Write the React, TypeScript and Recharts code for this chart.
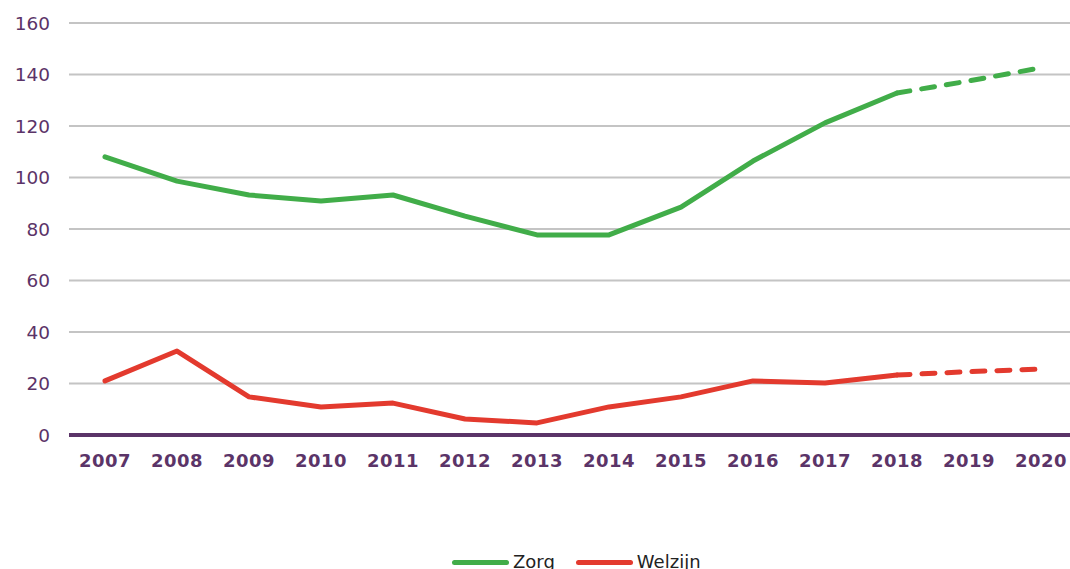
import React from 'react';
import { LineChart, Line, XAxis, YAxis, CartesianGrid, Legend } from 'recharts';

const years = ['2007','2008','2009','2010','2011','2012','2013','2014','2015','2016','2017','2018','2019','2020'];
const zorgSolid = [108, 98.6, 93.2, 90.9, 93.2, 85, 77.7, 77.7, 88.5, 106.4, 121.2, 132.8, null, null];
const zorgProj = [null, null, null, null, null, null, null, null, null, null, null, 132.8, 137.5, 142.6];
const welzijnSolid = [21, 32.6, 14.8, 10.9, 12.4, 6.2, 4.7, 10.9, 14.8, 21, 20.2, 23.3, null, null];
const welzijnProj = [null, null, null, null, null, null, null, null, null, null, null, 23.3, 24.6, 25.6];
const yTicks = [0, 20, 40, 60, 80, 100, 120, 140, 160];

const GREEN = '#41ad49';
const RED = '#e33a2e';
const PURPLE = '#5b3468';

const data = years.map((y, i) => ({
  year: y,
  zorg: zorgSolid[i],
  zorgP: zorgProj[i],
  welzijn: welzijnSolid[i],
  welzijnP: welzijnProj[i],
}));

const legendItems = [
  { label: 'Zorg', color: GREEN },
  { label: 'Welzijn', color: RED },
];

const LegendContent = () => (
  <div style={{ display: 'flex', alignItems: 'center', height: 22, paddingLeft: 452, fontFamily: 'DejaVu Sans, Verdana, sans-serif', fontSize: 18, color: '#222', transform: 'translateY(4px)' }}>
    {legendItems.map((it) => (
      <div key={it.label} style={{ display: 'flex', alignItems: 'center', marginRight: 21 }}>
        <div style={{ width: 57, height: 5, borderRadius: 3, background: it.color, marginRight: 4 }} />
        <span style={{ lineHeight: '22px' }}>{it.label}</span>
      </div>
    ))}
  </div>
);

export default function App() {
  return (
    <div style={{ position: 'fixed', left: 0, top: 0, width: 1070, height: 569, overflow: 'hidden', background: '#fff' }}>
      <LineChart width={1077} height={569} data={data} margin={{ top: 23, right: 0, bottom: 0, left: 0 }}>
        <CartesianGrid vertical={false} stroke="#c4c4c4" strokeWidth={2} />
        <XAxis
          dataKey="year"
          axisLine={{ stroke: PURPLE, strokeWidth: 4 }}
          tickLine={false}
          tickSize={0}
          tickMargin={19}
          height={112}
          interval={0}
          padding={{ left: 36, right: 36 }}
          tick={{ fill: PURPLE, fontSize: 18, fontWeight: 'bold', fontFamily: 'DejaVu Sans, Verdana, sans-serif', letterSpacing: 0.5 }}
        />
        <YAxis
          width={69}
          domain={[0, 160]}
          ticks={yTicks}
          axisLine={false}
          tickLine={false}
          tickSize={0}
          tickMargin={19}
          tick={{ fill: PURPLE, fontSize: 18.5, fontFamily: 'DejaVu Sans, Verdana, sans-serif' }}
        />
        <Legend verticalAlign="bottom" content={<LegendContent />} />
        <Line type="linear" dataKey="zorg" stroke={GREEN} strokeWidth={5} dot={false} strokeLinecap="round" strokeLinejoin="round" isAnimationActive={false} />
        <Line type="linear" dataKey="zorgP" stroke={GREEN} strokeWidth={5} dot={false} strokeDasharray="13 12" strokeLinecap="round" isAnimationActive={false} />
        <Line type="linear" dataKey="welzijn" stroke={RED} strokeWidth={5} dot={false} strokeLinecap="round" strokeLinejoin="round" isAnimationActive={false} />
        <Line type="linear" dataKey="welzijnP" stroke={RED} strokeWidth={5} dot={false} strokeDasharray="13 12" strokeLinecap="round" isAnimationActive={false} />
      </LineChart>
    </div>
  );
}
